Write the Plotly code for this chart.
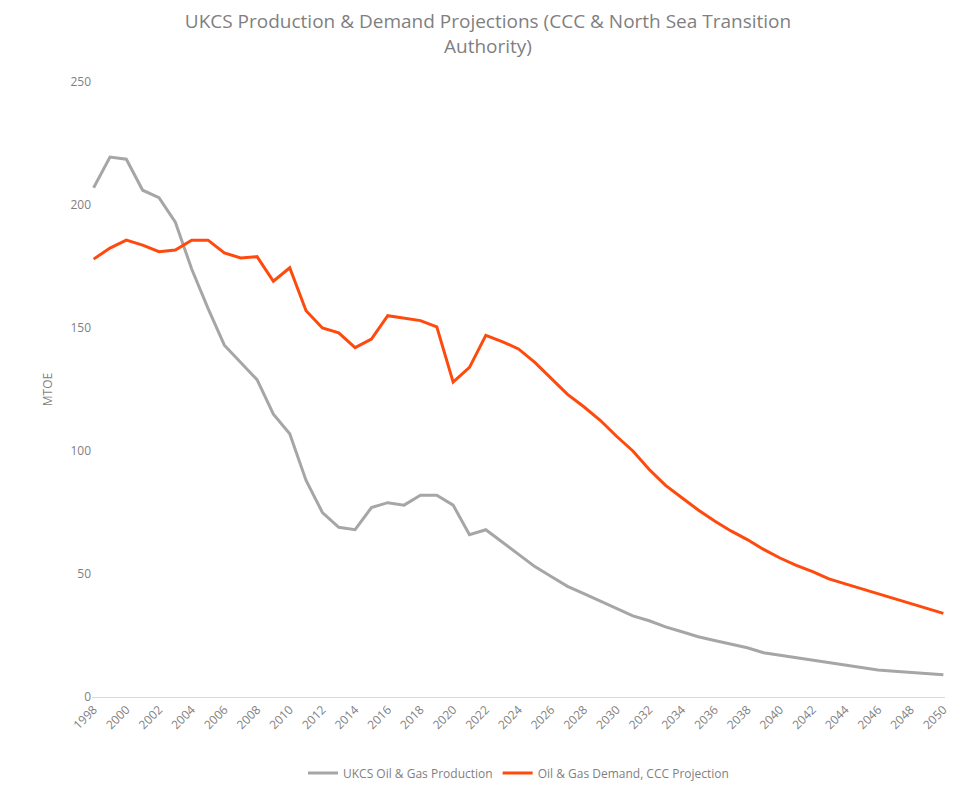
import plotly.graph_objects as go

years = list(range(1998, 2051))

production = [207, 219.5, 218.6, 206, 203, 193, 174, 158, 143, 136,
              129, 115, 107, 88, 75, 69, 68, 77, 79, 78,
              82, 82, 78, 66, 68, 63, 58, 53, 49, 45,
              42, 39, 36, 33, 31, 28.5, 26.5, 24.5, 23, 21.5,
              20, 18, 17, 16, 15, 14, 13, 12, 11, 10.5,
              10, 9.5, 9]

demand = [178, 182.5, 185.7, 183.7, 181, 181.7, 185.7, 185.7, 180.5, 178.5,
          179, 169, 174.5, 157, 150, 148, 142, 145.5, 155, 154,
          153, 150.5, 128, 134, 147, 144.5, 141.5, 136, 129.5, 123,
          118, 112.5, 106, 100, 92.5, 86, 81, 76, 71.5, 67.5,
          64, 60, 56.5, 53.5, 51, 48, 46, 44, 42, 40,
          38, 36, 34]

fig = go.Figure()
fig.add_trace(go.Scatter(x=years, y=production, mode="lines",
                         name="UKCS Oil & Gas Production",
                         line=dict(color="#a6a6a6", width=3)))
fig.add_trace(go.Scatter(x=years, y=demand, mode="lines",
                         name="Oil & Gas Demand, CCC Projection",
                         line=dict(color="#ff4a0d", width=3)))

fig.update_layout(
    width=960, height=792,
    paper_bgcolor="white", plot_bgcolor="white",
    font=dict(family="Open Sans, Lato, sans-serif", color="#7f7f7f", size=12),
    title=dict(text="UKCS Production & Demand Projections (CCC & North Sea Transition<br>Authority)",
               x=0.5, xanchor="center", y=0.975, font=dict(size=19, color="#7f7f7f")),
    margin=dict(l=84, r=23, t=74, b=90),
    legend=dict(orientation="h", x=0.5, xanchor="center", y=-0.1, yanchor="top",
                font=dict(size=12, color="#7f7f7f")),
    xaxis=dict(tickmode="array", tickvals=years[::2], tickangle=-45,
               range=[1997.9, 2050.1], showgrid=False, zeroline=False,
               showline=True, linecolor="#d9d9d9", ticks=""),
    yaxis=dict(title=dict(text="MTOE", font=dict(size=12)), range=[0, 250],
               tickvals=[0, 50, 100, 150, 200, 250], showgrid=False,
               zeroline=False, showline=False),
)

fig.write_html("out.html")
